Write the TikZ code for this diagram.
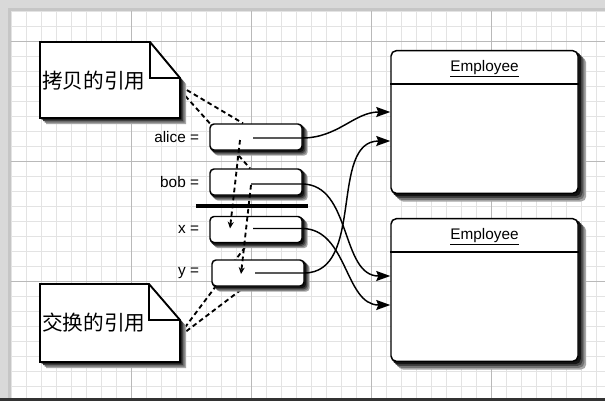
\documentclass[tikz,border=0pt]{standalone}
\usepackage{fontspec}
\setmainfont{Liberation Sans}
\newfontfamily\cjk{Noto Sans CJK SC}
\usetikzlibrary{positioning,calc,arrows.meta}
\pgfdeclarelayer{gridlayer}
\pgfdeclarelayer{back}
\pgfdeclarelayer{shade}
\pgfsetlayers{gridlayer,back,shade,main}

\tikzset{
  gridminor/.style={gray!22, line width=0.4pt},
  gridmajor/.style={gray!55, line width=0.6pt},
  shadefill/.style={fill=black!#1},
  refbox/.style={draw, line width=1.1pt, fill=white, rounded corners=3pt,
    minimum width=69pt, minimum height=19.5pt, inner sep=0pt},
  reflabel/.style={font=\fontsize{11.5}{13}\selectfont, inner sep=0pt},
  empbox/.style={draw, line width=1.1pt, fill=white, rounded corners=4pt,
    minimum width=140.25pt, minimum height=107pt, inner sep=0pt},
  emptitle/.style={font=\fontsize{11.5}{13}\selectfont, inner sep=0pt},
  notebox/.style={draw, line width=1.4pt, fill=white, line join=miter},
  notelabel/.style={font=\cjk\fontsize{15.5}{18}\selectfont, inner sep=0pt},
  noteline/.style={line width=1.4pt, dash pattern=on 3.5pt off 2.5pt},
  swapline/.style={noteline, -{Stealth[length=5pt,width=4.5pt]}},
  pointer/.style={line width=1.1pt, -{Stealth[length=10.5pt,width=7.5pt,inset=1.5pt]}},
}

\begin{document}
\begin{tikzpicture}[x=0.75pt,y=-0.75pt]
  \useasboundingbox (0,0) rectangle (605,401);
  % paper and grid
  \begin{pgfonlayer}{gridlayer}
    \fill[gray!30] (0,0) rectangle (605,401);
    \fill[gray!45] (8,8) rectangle (605,398);
    \fill[white] (11,11) rectangle (605,398);
    \foreach \gx in {11,26,...,605} \draw[gridminor] (\gx,11) -- (\gx,398);
    \foreach \gy in {11,26,...,398} \draw[gridminor] (11,\gy) -- (605,\gy);
    \foreach \gx in {131,251,371,491} \draw[gridmajor] (\gx,11) -- (\gx,398);
    \foreach \gy in {41,161,281} \draw[gridmajor] (11,\gy) -- (605,\gy);
    \fill[black!80] (0,397.5) rectangle (605,401);
  \end{pgfonlayer}

  % notes
  \draw[notebox] (40,42) -- (150,42) -- (180,78) -- (180,118) -- (40,118) -- cycle;
  \draw[line width=1.4pt] (150,42) -- (150,78) -- (180,78);
  \node[notelabel, anchor=west] (copylabel) at (42,81) {拷贝的引用};
  \coordinate (copytip) at (180,86);

  \draw[notebox] (40,284) -- (149,284) -- (180,320) -- (180,362) -- (40,362) -- cycle;
  \draw[line width=1.4pt] (149,284) -- (149,320) -- (180,320);
  \node[notelabel, anchor=west] (swaplabel) at (42,323) {交换的引用};
  \coordinate (swaptip) at (180,334);

  % references
  \node[refbox] (alice) at (256,137) {};
  \node[refbox] (bob) at (256,182) {};
  \node[refbox] (xvar) at (256,229.5) {};
  \node[refbox] (yvar) at (258,273) {};
  \node[reflabel, left=7.5pt of alice] (alicelabel) {alice =};
  \node[reflabel, left=7.5pt of bob] (boblabel) {bob =};
  \node[reflabel, left=7.5pt of xvar] (xlabel) {x =};
  \node[reflabel, left=9pt of yvar] (ylabel) {y =};
  \draw[line width=3pt] (196,206) -- (308,206);

  % objects
  \node[empbox] (emp1) at (484.5,122) {};
  \node[empbox] (emp2) at (484.5,290) {};
  \foreach \e in {emp1,emp2} {
    \draw[line width=1.1pt] ($(\e.north west)+(0,34)$) -- ($(\e.north east)+(0,34)$);
    \node[emptitle] (\e title) at ($(\e.north)+(0,19)$) {\underline{Employee}};
  }

  % shadows, light to dark
  \begin{pgfonlayer}{shade}
    \foreach \k/\o in {5/35,3.8/55,2.6/75,1.4/92} {
      \foreach \n in {alice,bob,xvar,yvar}
        \fill[shadefill=\o, rounded corners=3pt] ($(\n.north west)+(\k,\k)$) rectangle ($(\n.south east)+(\k,\k)$);
      \foreach \n in {emp1,emp2}
        \fill[shadefill=\o, rounded corners=4pt] ($(\n.north west)+(1.5*\k,1.5*\k)$) rectangle ($(\n.south east)+(1.5*\k,1.5*\k)$);
      \begin{scope}[shift={(1.2*\k,1.2*\k)}]
        \fill[shadefill=\o] (40,42) -- (150,42) -- (180,78) -- (180,118) -- (40,118) -- cycle;
        \fill[shadefill=\o] (40,284) -- (149,284) -- (180,320) -- (180,362) -- (40,362) -- cycle;
      \end{scope}
    }
  \end{pgfonlayer}

  % dashed from notes, behind the boxes
  \begin{pgfonlayer}{back}
    \draw[noteline] (copytip) -- ($(alice.north)+(-13,0)$);
    \draw[noteline] ($(copytip)+(0,4)$) -- ($(bob.north)+(-6,0)$);
    \draw[noteline] (swaptip) -- ($(xvar.south)+(-8,0)$);
    \draw[noteline] ($(swaptip)+(0,2)$) -- ($(yvar.south)+(-13,0)$);
  \end{pgfonlayer}

  % swap
  \draw[swapline] ($(alice.center)+(-16,3)$) -- ($(xvar.center)+(-26,-1)$);
  \draw[swapline] ($(bob.center)+(-5,3)$) -- ($(yvar.center)+(-17,1)$);

  % pointers
  \draw[pointer] ($(alice.center)+(-3,1)$) -- ++(49,0) to[out=0,in=180] ($(emp1.west)+(0,-10)$);
  \draw[pointer] ($(bob.center)+(-5,2)$) -- ++(51,0) to[out=0,in=180] ($(emp2.west)+(0,-14)$);
  \draw[pointer] ($(xvar.center)+(-3,-1)$) -- ++(49,0) to[out=0,in=180] ($(emp2.west)+(0,15)$);
  \draw[pointer] ($(yvar.center)+(-3,0)$) -- ++(49,0) to[out=0,in=180] ($(emp1.west)+(0,19)$);
\end{tikzpicture}
\end{document}
